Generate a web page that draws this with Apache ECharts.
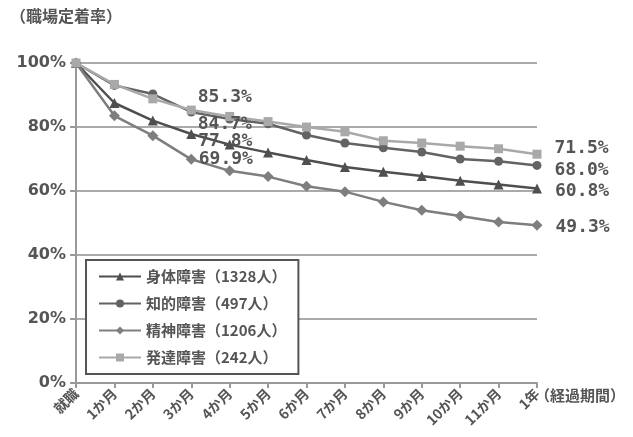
<!DOCTYPE html>
<html>
<head>
<meta charset="utf-8">
<script src="https://cdn.jsdelivr.net/npm/echarts@6/dist/echarts.min.js"></script>
<style>
  html, body { margin: 0; padding: 0; background: #fff; }
  #main { width: 633px; height: 437px; }
</style>
</head>
<body>
<div id="main"></div>
<script>
// 経過期間
const months = ['就職', '1か月', '2か月', '3か月', '4か月', '5か月', '6か月', '7か月', '8か月', '9か月', '10か月', '11か月', '1年']
const names = ['身体障害（1328人）', '知的障害（497人）', '精神障害（1206人）', '発達障害（242人）']
// 職場定着率 (%)
const shintai = [100, 87.5, 82, 77.8, 74.5, 72, 69.7, 67.5, 66, 64.7, 63.2, 62, 60.8]
const chiteki = [100, 93, 90.3, 84.7, 82.5, 81, 77.5, 75, 73.5, 72.2, 70, 69.3, 68.0]
const seishin = [100, 83.5, 77.3, 69.9, 66.3, 64.5, 61.5, 59.8, 56.6, 54, 52.2, 50.3, 49.3]
const hattatsu = [100, 93.3, 88.8, 85.3, 83.3, 81.7, 80, 78.5, 75.7, 75, 74, 73.2, 71.5]
const yTicks = [0, 20, 40, 60, 80, 100]

const font = '"Noto Sans CJK JP", sans-serif'
const txt = '#555'

// 3か月 と 1年 にだけ値ラベルを付ける
function withLabels (arr, off3, off12) {
  return arr.map((v, i) => {
    if (i === 3) return { value: v, label: { show: true, position: 'right', offset: off3 } }
    if (i === 12) return { value: v, label: { show: true, position: 'right', offset: off12 } }
    return v
  })
}

const labelStyle = {
  formatter: p => p.value.toFixed(1) + '%',
  fontFamily: '"DejaVu Sans Mono", monospace',
  fontWeight: 'bold',
  fontSize: 18,
  color: txt
}

function line (name, arr, color, symbol, size, off3, off12) {
  return {
    name: name,
    type: 'line',
    data: withLabels(arr, off3, off12),
    symbol: symbol,
    symbolSize: size,
    color: color,
    lineStyle: { width: 2.5, color: color },
    itemStyle: { color: color },
    label: labelStyle
  }
}

const myChart = echarts.init(document.getElementById('main'))
const option = {
  animation: false,
  textStyle: { fontFamily: font },
  grid: { left: 76, right: 96, top: 63, bottom: 54 },
  legend: {
    orient: 'vertical',
    left: 86,
    top: 260,
    width: 219,
    padding: [9, 12, 9, 12],
    itemWidth: 42,
    itemHeight: 10,
    itemGap: 12,
    borderColor: '#555',
    borderWidth: 2,
    backgroundColor: '#fff',
    textStyle: { fontFamily: font, fontWeight: 'bold', fontSize: 15, color: txt },
    data: names
  },
  xAxis: {
    type: 'category',
    boundaryGap: false,
    data: months,
    axisLine: { lineStyle: { color: '#999', width: 2 } },
    axisTick: { show: true, length: 5, lineStyle: { color: '#999', width: 2 } },
    axisLabel: { rotate: 45, margin: 8, fontFamily: font, fontWeight: 'bold', fontSize: 14, color: txt }
  },
  yAxis: {
    type: 'value',
    min: 0,
    max: 100,
    interval: 20,
    axisLine: { show: true, lineStyle: { color: '#999', width: 2 } },
    axisTick: { show: true, length: 6, lineStyle: { color: '#999', width: 2 } },
    splitLine: { lineStyle: { color: '#aaa', width: 2 } },
    axisLabel: {
      formatter: v => yTicks.includes(v) ? v + '%' : '',
      margin: 10,
      fontFamily: '"DejaVu Sans", sans-serif',
      fontWeight: 'bold',
      fontSize: 16,
      color: txt
    }
  },
  graphic: [
    { type: 'text', left: 10, top: 8, style: { text: '（職場定着率）', font: 'bold 16px ' + font, fill: txt } },
    { type: 'text', left: 535, top: 388, style: { text: '（経過期間）', font: 'bold 15px ' + font, fill: txt } }
  ],
  series: [
    line(names[0], shintai, '#4f4f4f', 'triangle', 10, [-3, 7], [8, 3]),
    line(names[1], chiteki, '#636363', 'circle', 9, [-3, 12], [8, 5]),
    line(names[2], seishin, '#7e7e7e', 'diamond', 11, [-3, 0], [8, 2]),
    line(names[3], hattatsu, '#a9a9a9', 'rect', 9, [-3, -13], [8, -6])
  ]
}
option && myChart.setOption(option)
</script>
</body>
</html>
